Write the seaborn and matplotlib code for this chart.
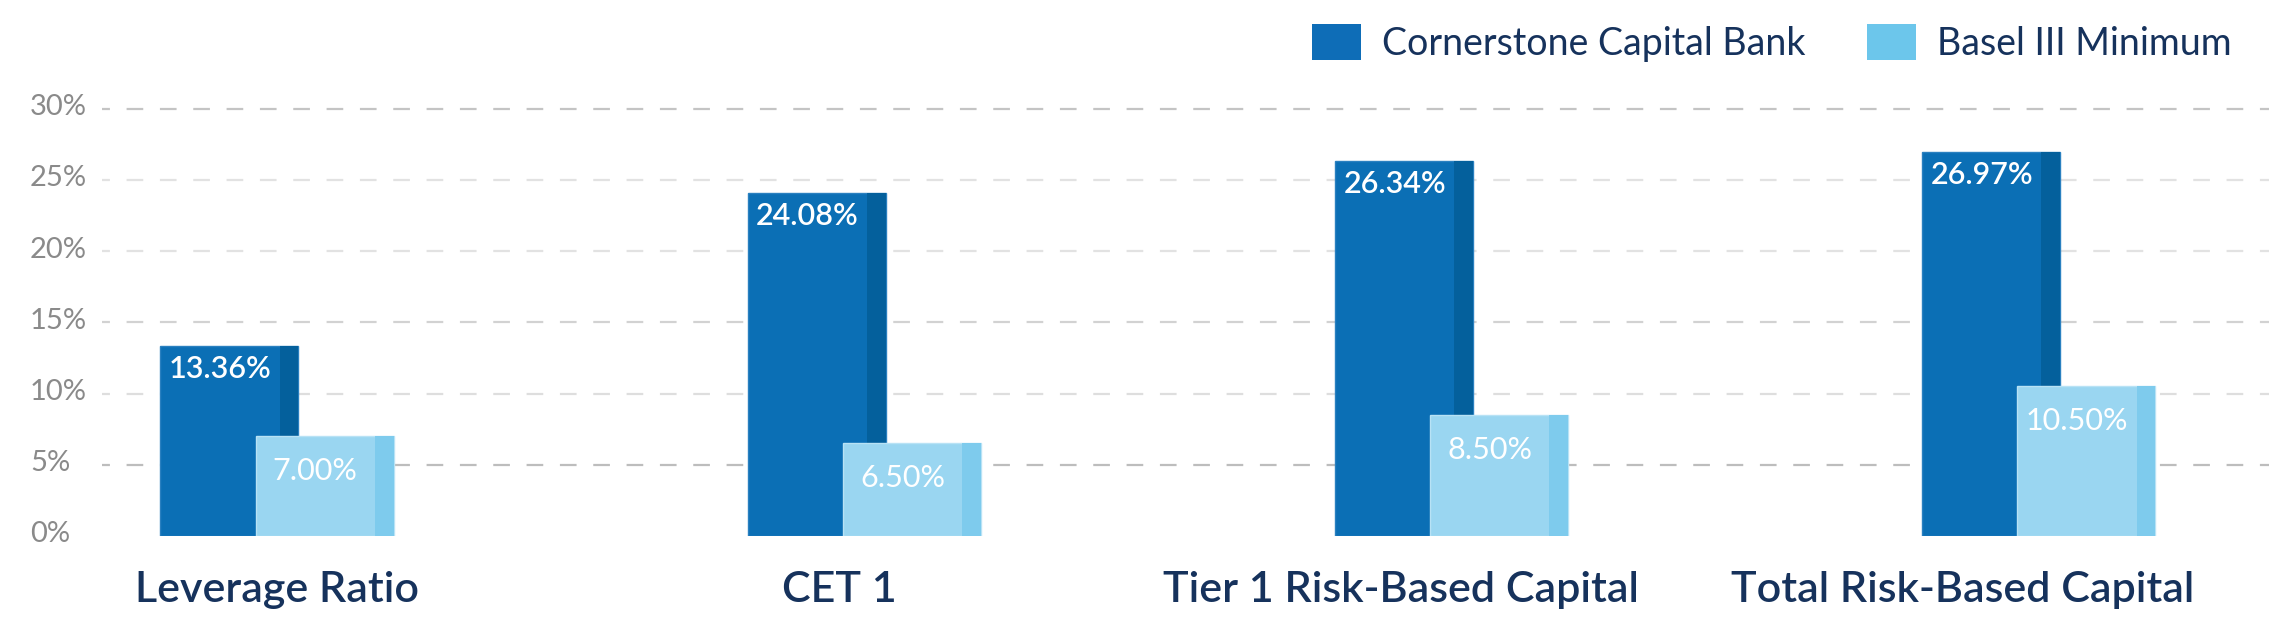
import numpy as np
import pandas as pd
import matplotlib
matplotlib.use("Agg")
import matplotlib.pyplot as plt
import matplotlib.transforms as mtransforms
from matplotlib.patches import Patch
import seaborn as sns

# data
metrics = ["Leverage Ratio", "CET 1", "Tier 1 Risk-Based Capital", "Total Risk-Based Capital"]
bank_values = [13.36, 24.08, 26.34, 26.97]
basel_values = [7.00, 6.50, 8.50, 10.50]
series_names = ["Cornerstone Capital Bank", "Basel III Minimum"]
y_ticks = [0, 5, 10, 15, 20, 25, 30]

NAVY = "#16325C"
GRAY = "#8A8A8A"
DARK, DARK_SIDE = "#0B6FB5", "#04609C"
LIGHT, LIGHT_SIDE = "#9AD6F1", "#7ECBED"
LEG_DARK, LEG_LIGHT = "#0E6DB7", "#6CC6EB"
grid_colors = {5: "#BDBDBD", 10: "#DEDEDE", 15: "#D2D2D2", 20: "#E2E2E2", 25: "#E2E2E2", 30: "#C4C4C4"}

sns.set_theme(style="white")
plt.rcParams["font.family"] = ["Lato", "DejaVu Sans"]
plt.rcParams["lines.scale_dashes"] = False

df = pd.DataFrame({
    "metric": metrics * 2,
    "value": bank_values + basel_values,
    "series": [series_names[0]] * 4 + [series_names[1]] * 4,
})

W, H = 2269, 636
fig = plt.figure(figsize=(W / 100, H / 100), dpi=100)
ax = fig.add_axes([102 / W, 100 / H, 1 - 102 / W, 427.5 / H])

BAR_W = 0.235
OFFSET = 0.081
STRIP = 0.032


def draw_series(name, color, side, edge, dx, z):
    n0 = len(ax.patches)
    sns.barplot(data=df[df["series"] == name], x="metric", y="value", color=color,
                saturation=1, width=BAR_W, errorbar=None, ax=ax, zorder=z,
                linewidth=1, edgecolor=edge)
    bars = list(ax.patches[n0:])
    for p in bars:
        p.set_x(p.get_x() + dx)
    # darker strip on the right side of each bar
    for p in bars:
        ax.bar(p.get_x() + p.get_width() - STRIP, p.get_height(), width=STRIP,
               align="edge", color=side, linewidth=0, zorder=z + 0.1)
    return bars


def label_bars(bars, values, dy_px, weight):
    tr = mtransforms.offset_copy(ax.transData, fig=fig, y=-dy_px, units="dots")
    for p, v in zip(bars, values):
        cx = p.get_x() + (p.get_width() - STRIP) / 2
        ax.text(cx, p.get_height(), f"{v:.2f}%", transform=tr, ha="center", va="top",
                color="white", fontsize=22, fontweight=weight, zorder=10)


bank_bars = draw_series(series_names[0], DARK, DARK_SIDE, "#2A80C0", -OFFSET, 2)
basel_bars = draw_series(series_names[1], LIGHT, LIGHT_SIDE, "#B8E2F5", OFFSET, 3)
label_bars(bank_bars, bank_values, 9, "semibold")
label_bars(basel_bars, basel_values, 21, "normal")

# dashed gridlines
for t in y_ticks[1:]:
    ax.axhline(t, color=grid_colors[t], lw=1.6, linestyle=(6.3, (12, 12)),
               zorder=0.5, clip_on=False)

ax.set_ylim(0, 30)
ax.set_xlim(-0.298, 3.392)
ax.set_xlabel("")
ax.set_ylabel("")
for s in ax.spines.values():
    s.set_visible(False)

ax.set_yticks(y_ticks)
ax.set_yticklabels([f"{t}%" for t in y_ticks])
ax.tick_params(axis="y", length=0, pad=72 * 0.72, labelsize=21, labelcolor=GRAY)
shift_up = mtransforms.ScaledTranslation(0, 4 / 100, fig.dpi_scale_trans)
for lbl in ax.get_yticklabels():
    lbl.set_horizontalalignment("left")
    lbl.set_transform(lbl.get_transform() + shift_up)

# category labels are spaced a little tighter than the bar groups
ax.set_xticks(np.arange(len(metrics)) * 0.957)
ax.set_xticklabels(metrics)
ax.tick_params(axis="x", length=0, pad=25, labelsize=31, labelcolor=NAVY)
for lbl in ax.get_xticklabels():
    lbl.set_fontweight("semibold")

handles = [Patch(facecolor=LEG_DARK, edgecolor="none"),
           Patch(facecolor=LEG_LIGHT, edgecolor="none")]
fs = 27
px = fs * 100 / 72
fig.legend(handles, series_names, loc="upper right", bbox_to_anchor=(2232 / W, 1 - 24 / H),
           ncol=2, frameon=False, prop={"size": fs}, labelcolor=NAVY,
           handlelength=49 / px, handleheight=41 / px, handletextpad=21 / px,
           columnspacing=62 / px, borderpad=0, borderaxespad=0)

fig.savefig("out.png", dpi=100)
